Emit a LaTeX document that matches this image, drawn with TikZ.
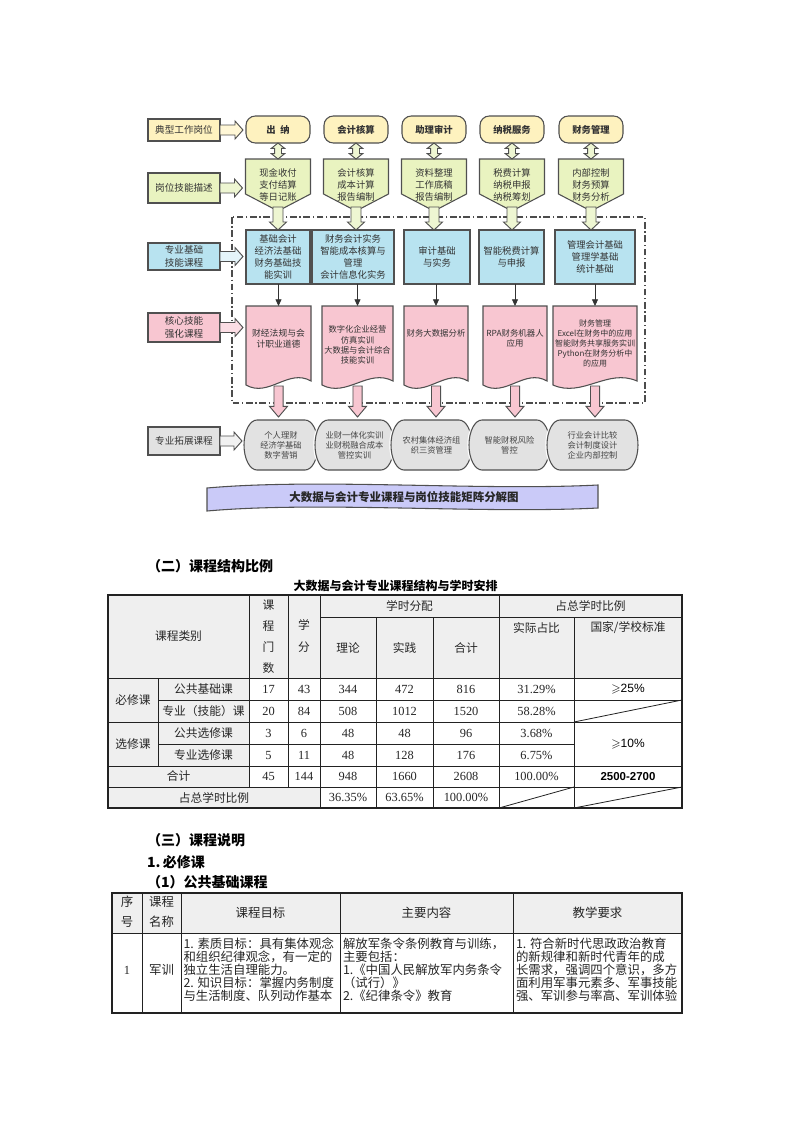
\documentclass[tikz,border=0pt]{standalone}
\usepackage{fontspec}
\usepackage{amssymb}
\setmainfont{Noto Sans CJK SC}
\newfontfamily\serifnum{Liberation Serif}
\newfontfamily\sansnum{Liberation Sans}
\usetikzlibrary{calc,arrows.meta}
\pgfdeclarelayer{bg}
\pgfsetlayers{bg,main}
\definecolor{edge}{HTML}{505050}
\definecolor{txt}{HTML}{333333}
\definecolor{gtxt}{HTML}{454545}
\definecolor{cyel}{HTML}{FEF2BF}
\definecolor{cgrn}{HTML}{E9F3C0}
\definecolor{cblu}{HTML}{B8E3F0}
\definecolor{cpnk}{HTML}{F8C6D1}
\definecolor{cgry}{HTML}{E2E2E2}
\definecolor{cban}{HTML}{CACAF8}
\definecolor{ayel}{HTML}{FFF7D6}
\definecolor{agrn}{HTML}{EEF6D2}
\definecolor{ablu}{HTML}{E4F4FA}
\definecolor{apnk}{HTML}{FBDDE4}
\definecolor{agry}{HTML}{F1F1F1}
\definecolor{thead}{HTML}{EFEFEF}
\definecolor{tline}{HTML}{222222}
\tikzset{
  outl/.style={draw=edge,line width=0.8pt},
  hollow/.style={draw=edge,line width=0.7pt,line join=miter},
  lab/.style={outl,minimum width=54pt,align=center,font=\fontsize{7.2}{9.5}\selectfont},
  topbox/.style={outl,fill=cyel,rounded corners=7pt,minimum width=48pt,minimum height=20.25pt,font=\bfseries\fontsize{7}{8}\selectfont},
  penthold/.style={minimum width=48.75pt,minimum height=39pt,align=center,font=\fontsize{7}{9}\selectfont},
  bluebox/.style={outl,fill=cblu,minimum height=40.5pt,align=center,font=\fontsize{7}{9}\selectfont},
  dochold/.style={minimum height=61.5pt},
  doctext/.style={align=center,font=\fontsize{6.3}{7.7}\selectfont},
  ghold/.style={minimum height=37.5pt,align=center,font=\fontsize{6.2}{7.5}\selectfont,text=gtxt},
  smallarr/.style={draw=black!80,line width=0.6pt,-{Triangle[length=5pt,width=4.5pt]}},
  frameline/.style={draw=black!70,line width=0.8pt,dash pattern=on 5pt off 2pt on 1pt off 2pt},
  tl/.style={draw=tline,line width=0.6pt},
  tc/.style={font=\fontsize{8.8}{10}\selectfont,text=black!85},
  tn/.style={font=\serifnum\fontsize{9.3}{10}\selectfont,text=black!85},
  cell/.style={font=\fontsize{9.3}{10}\selectfont,text=black!85},
  sect/.style={anchor=west,font=\bfseries\fontsize{10.5}{12}\selectfont,text=black}
}
% horizontal hollow arrow: from #1 to #2, fill #3, shaft half #4, head half #5, head length #6
\newcommand\harrow[6]{\path[hollow,fill=#3] let \p1=(#1), \p2=(#2) in
  (\x1,\y1+#4) -- (\x2-#6,\y1+#4) -- (\x2-#6,\y1+#5) -- (\x2,\y1) -- (\x2-#6,\y1-#5) -- (\x2-#6,\y1-#4) -- (\x1,\y1-#4) -- cycle;}
% vertical hollow arrow (downwards)
\newcommand\varrow[6]{\path[hollow,fill=#3] let \p1=(#1), \p2=(#2) in
  (\x1-#4,\y1) -- (\x1-#4,\y2+#6) -- (\x1-#5,\y2+#6) -- (\x1,\y2) -- (\x1+#5,\y2+#6) -- (\x1+#4,\y2+#6) -- (\x1+#4,\y1) -- cycle;}
% vertical double headed hollow arrow
\newcommand\dvarrow[3]{\path[hollow,fill=#3] let \p1=(#1), \p2=(#2) in
  (\x1,\y1) -- (\x1+5pt,\y1-4pt) -- (\x1+2.6pt,\y1-4pt) -- (\x1+2.6pt,\y2+4pt) -- (\x1+5pt,\y2+4pt) -- (\x1,\y2)
  -- (\x1-5pt,\y2+4pt) -- (\x1-2.6pt,\y2+4pt) -- (\x1-2.6pt,\y1-4pt) -- (\x1-5pt,\y1-4pt) -- cycle;}
\newcommand\gpath[1]{($(#1.north west)+(13,0)$) -- ($(#1.north east)+(-13,0)$)
  arc[start angle=90,end angle=-90,x radius=9.75pt,y radius=18.75pt]
  -- ($(#1.south west)+(13,0)$)
  arc[start angle=270,end angle=90,x radius=9.75pt,y radius=18.75pt] -- cycle}
\newcommand\txtlines[4]{\foreach \t [count=\i from 0] in {#4} {\node[cell,anchor=west] at (#1,#2+\i*#3) {\t};}}
\begin{document}
\begin{tikzpicture}[x=0.75pt,y=-0.75pt,every node/.style={inner sep=0pt,outer sep=0pt,text=txt}]
\begin{pgfonlayer}{bg}
\fill[white] (0,0) rectangle (793,1122);
\draw[frameline] (232,217) rectangle (645,403);
\end{pgfonlayer}
\useasboundingbox (0,0) rectangle (793,1122);

% ---------- left labels ----------
\node[lab,fill=cyel,minimum height=16.5pt] (L1) at (184,130) {典型工作岗位};
\node[lab,fill=cgrn,minimum height=22.5pt] (L2) at (184,188) {岗位技能描述};
\node[lab,fill=cblu,minimum height=20.25pt] (L3) at (184,256.5) {专业基础\\技能课程};
\node[lab,fill=cpnk,minimum height=21.75pt] (L4) at (184,327.5) {核心技能\\强化课程};
\node[lab,fill=cgry,minimum height=21pt] (L5) at (184,441) {专业拓展课程};

% ---------- top row ----------
\node[topbox] (T1) at (278,129.5) {出\enspace 纳};
\node[topbox] (T2) at (356,129.5) {会计核算};
\node[topbox] (T3) at (434,129.5) {助理审计};
\node[topbox] (T4) at (512,129.5) {纳税服务};
\node[topbox] (T5) at (591,129.5) {财务管理};

% ---------- pentagons ----------
\node[penthold] (P1) at (278,185) {现金收付\\支付结算\\等日记账};
\node[penthold] (P2) at (356,185) {会计核算\\成本计算\\报告编制};
\node[penthold] (P3) at (434,185) {资料整理\\工作底稿\\报告编制};
\node[penthold] (P4) at (512,185) {税费计算\\纳税申报\\纳税筹划};
\node[penthold] (P5) at (591,185) {内部控制\\财务预算\\财务分析};

% ---------- blue boxes ----------
\node[bluebox,minimum width=48pt] (B1) at (278,257) {基础会计\\经济法基础\\财务基础技\\能实训};
\node[bluebox,minimum width=61.5pt] (B2) at (353,257) {财务会计实务\\智能成本核算与\\管理\\会计信息化实务};
\node[bluebox,minimum width=49.5pt] (B3) at (437,257) {审计基础\\与实务};
\node[bluebox,minimum width=48.75pt] (B4) at (511.5,257) {智能税费计算\\与申报};
\node[bluebox,minimum width=60pt] (B5) at (595,257) {管理会计基础\\管理学基础\\统计基础};

% ---------- pink documents ----------
\node[dochold,minimum width=48.75pt] (D1) at (278.5,347) {};
\node[dochold,minimum width=53.25pt] (D2) at (357.5,347) {};
\node[dochold,minimum width=48pt] (D3) at (436,347) {};
\node[dochold,minimum width=48pt] (D4) at (515,347) {};
\node[dochold,minimum width=63pt] (D5) at (595,347) {};
\node[doctext,font=\fontsize{6.6}{8.2}\selectfont] (D1t) at (278.5,338.5) {财经法规与会\\计职业道德};
\node[doctext,font=\fontsize{6.2}{7.6}\selectfont] (D2t) at (357.5,345) {数字化企业经营\\仿真实训\\大数据与会计综合\\技能实训};
\node[doctext] (D3t) at (436,333) {财务大数据分析};
\node[doctext] (D4t) at (515,338) {RPA财务机器人\\应用};
\node[doctext,font=\fontsize{6}{7.6}\selectfont] (D5t) at (595,343.5) {财务管理\\Excel在财务中的应用\\智能财务共享服务实训\\Python在财务分析中\\的应用};

% ---------- gray row ----------
\node[ghold,minimum width=55.5pt] (G1) at (281,445) {个人理财\\经济学基础\\数字营销};
\node[ghold,minimum width=59.25pt] (G2) at (354.5,445) {业财一体化实训\\业财税融合成本\\管控实训};
\node[ghold,minimum width=60.75pt] (G3) at (431.5,445) {农村集体经济组\\织三资管理};
\node[ghold,minimum width=60.75pt] (G4) at (509.5,445) {智能财税风险\\管控};
\node[ghold,minimum width=68.25pt] (G5) at (592.5,445) {行业会计比较\\会计制度设计\\企业内部控制};

% ---------- banner ----------
\node[font=\bfseries\fontsize{8.6}{10}\selectfont,text=black!85] (BN) at (404,497.5) {大数据与会计专业课程与岗位技能矩阵分解图};

% ---------- background shapes ----------
\begin{pgfonlayer}{bg}
\foreach \n in {P1,P2,P3,P4,P5} {
  \draw[outl,fill=cgrn] (\n.north west) -- (\n.north east) -- ($(\n.south east)+(0,-17)$) -- (\n.south) -- ($(\n.south west)+(0,-17)$) -- cycle;}
\foreach \n in {D1,D2,D3,D4,D5} {
  \draw[outl,fill=cpnk] ($(\n.south west)+(0,-3)$) -- (\n.north west) -- (\n.north east) -- ($(\n.south east)+(0,-7)$)
    .. controls ($(\n.south west)!0.65!(\n.south east)+(0,-20)$) and ($(\n.south west)!0.35!(\n.south east)+(0,10)$) .. ($(\n.south west)+(0,-3)$) -- cycle;}
\foreach \n in {G1,G2,G3,G4,G5} {
  \draw[white,line width=2.6pt] \gpath{\n};
  \draw[outl,fill=cgry] \gpath{\n};}
\draw[outl,fill=cban] (207,488) .. controls (320,478) and (480,491) .. (598,485) -- (598,508)
  .. controls (480,514) and (320,501) .. (207,511) -- cycle;
\end{pgfonlayer}

% ---------- connectors ----------
\harrow{L1.east}{$(T1.west)+(-3,0)$}{ayel}{3.75pt}{6.75pt}{6pt}
\harrow{L2.east}{$(P1.west)+(-3,0)$}{agrn}{3.75pt}{6.75pt}{6pt}
\harrow{L3.east}{$(B1.west)+(-3,0)$}{ablu}{3.75pt}{6.75pt}{6pt}
\harrow{L4.east}{$(D1.west)+(-3,0)$}{apnk}{3.75pt}{6.75pt}{6pt}
\harrow{L5.east}{$(G1.west)+(-2,0)$}{agry}{3.75pt}{6.75pt}{6pt}
\foreach \i in {1,...,5} {
  \dvarrow{T\i.south}{P\i.north}{agrn}
  \varrow{$(P\i.south)+(0,-4)$}{B\i.north}{agrn}{3.75pt}{6.4pt}{6pt}
  \draw[smallarr] (B\i.south -| D\i.north) -- (D\i.north);
  \varrow{$(D\i.south)+(0,-2)$}{$(G\i.north)+(0,-3)$}{cpnk}{3.4pt}{6.75pt}{8pt}
}

% ---------- section (二) ----------
\node[sect] (S2) at (147,566) {（二）课程结构比例};
\node[font=\bfseries\fontsize{9}{10}\selectfont,text=black] (TT1) at (395.5,585.5) {大数据与会计专业课程结构与学时安排};

% table 1
\fill[thead] (108,595) rectangle (682,678);
\fill[thead] (108,678) rectangle (249,787);
\fill[thead] (108,787) rectangle (320,808);
\draw[tl] (320,617) -- (682,617);
\draw[tl] (108,678) -- (682,678);
\draw[tl] (158,700) -- (682,700);
\draw[tl] (108,722) -- (682,722);
\draw[tl] (158,744) -- (574,744);
\draw[tl] (108,766) -- (682,766);
\draw[tl] (108,787) -- (682,787);
\draw[tl] (158,678) -- (158,766);
\draw[tl] (249,595) -- (249,787);
\draw[tl] (288,595) -- (288,787);
\draw[tl] (320,595) -- (320,808);
\draw[tl] (376,617) -- (376,808);
\draw[tl] (433,617) -- (433,808);
\draw[tl] (499,595) -- (499,808);
\draw[tl] (574,617) -- (574,808);
\draw[tl] (574,722) -- (682,700);
\draw[tl] (499,808) -- (574,787);
\draw[tl] (574,808) -- (682,787);
\draw[draw=tline,line width=1.2pt] (108,595) rectangle (682,808);

\node[tc] at (178.5,636.5) {课程类别};
\node[tc,align=center,font=\fontsize{8.8}{15.75}\selectfont] at (268.5,636.5) {课\\程\\门\\数};
\node[tc,align=center,font=\fontsize{8.8}{16.5}\selectfont] at (304,636) {学\\分};
\node[tc] at (409.5,606) {学时分配};
\node[tc] at (590.5,606) {占总学时比例};
\node[tc] at (348,648) {理论};
\node[tc] at (404.5,648) {实践};
\node[tc] at (466,648) {合计};
\node[tc] at (536.5,628) {实际占比};
\node[tc] at (628,628) {国家/学校标准};
\node[tc] at (133,700) {必修课};
\node[tc] at (133,744) {选修课};
\node[tc] at (203.5,689) {公共基础课};
\node[tc] at (203.5,711) {专业（技能）课};
\node[tc] at (203.5,733) {公共选修课};
\node[tc] at (203.5,755) {专业选修课};
\node[tc] at (178.5,776.5) {合计};
\node[tc] at (214,797.5) {占总学时比例};
\foreach \y/\a/\b/\c/\d/\e/\f in {689/17/43/344/472/816/31.29\%,711/20/84/508/1012/1520/58.28\%,733/3/6/48/48/96/3.68\%,755/5/11/48/128/176/6.75\%,776.5/45/144/948/1660/2608/100.00\%}{
  \node[tn] at (268.5,\y) {\a};
  \node[tn] at (304,\y) {\b};
  \node[tn] at (348,\y) {\c};
  \node[tn] at (404.5,\y) {\d};
  \node[tn] at (466,\y) {\e};
  \node[tn] at (536.5,\y) {\f};
}
\node[tn] at (348,797.5) {36.35\%};
\node[tn] at (404.5,797.5) {63.65\%};
\node[tn] at (466,797.5) {100.00\%};
\node[font=\sansnum\fontsize{9}{10}\selectfont,text=black] at (628,689) {$\geqslant$25\%};
\node[font=\sansnum\fontsize{9}{10}\selectfont,text=black] at (628,744) {$\geqslant$10\%};
\node[font=\sansnum\bfseries\fontsize{8.6}{10}\selectfont,text=black] at (628,776.5) {2500-2700};

% ---------- section (三) ----------
\node[sect] (S3) at (147,840) {（三）课程说明};
\node[sect] (S31) at (147,862) {1.\,必修课};
\node[sect] (S32) at (147,882) {（1）公共基础课程};

% table 2
\fill[thead] (112,893) rectangle (682,933);
\draw[tl] (112,933) -- (682,933);
\draw[tl] (142,893) -- (142,1013);
\draw[tl] (181,893) -- (181,1013);
\draw[tl] (340,893) -- (340,1013);
\draw[tl] (513,893) -- (513,1013);
\draw[draw=tline,line width=1.2pt] (112,893) rectangle (682,1013);
\node[cell,align=center,font=\fontsize{9.3}{15}\selectfont] at (127,912) {序\\号};
\node[cell,align=center,font=\fontsize{9.3}{15}\selectfont] at (161.5,912) {课程\\名称};
\node[cell] at (260.5,913) {课程目标};
\node[cell] at (426.5,913) {主要内容};
\node[cell] at (597.5,913) {教学要求};
\node[tn] at (127,970) {1};
\node[cell] at (161.5,970) {军训};
\txtlines{183.5}{944}{13}{1. 素质目标：具有集体观念,和组织纪律观念，有一定的,独立生活自理能力。,2. 知识目标：掌握内务制度,与生活制度、队列动作基本}
\txtlines{343}{944}{13}{解放军条令条例教育与训练，,主要包括：,1.《中国人民解放军内务条令,（试行）》,2.《纪律条令》教育}
\txtlines{516}{944}{13}{1. 符合新时代思政政治教育,的新规律和新时代青年的成,长需求，强调四个意识，多方,面利用军事元素多、军事技能,强、军训参与率高、军训体验}
\end{tikzpicture}
\end{document}
